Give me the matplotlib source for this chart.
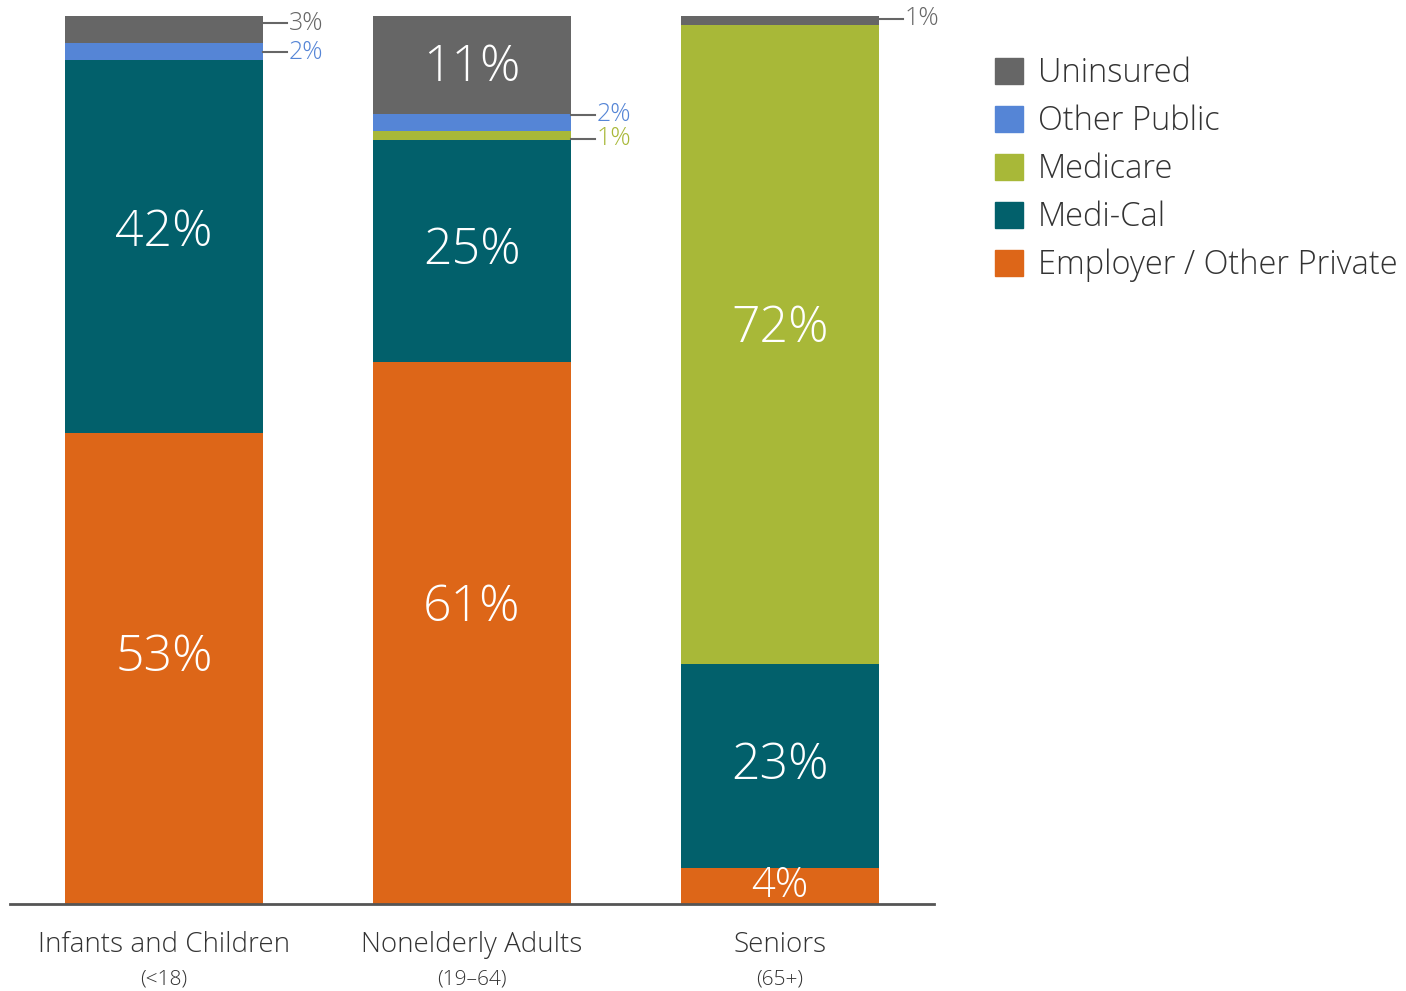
from matplotlib import pyplot as plt
from matplotlib.patches import Patch
import numpy as np

plt.rcParams['font.family'] = ['Open Sans', 'DejaVu Sans']

groups = ['Infants and Children', 'Nonelderly Adults', 'Seniors']
ages = ['(<18)', '(19\u201364)', '(65+)']
series = ['Employer / Other Private', 'Medi-Cal', 'Medicare', 'Other Public', 'Uninsured']
colors = ['#dd6618', '#02606b', '#a8b838', '#5585d6', '#666666']

employer = [53, 61, 4]
medical = [42, 25, 23]
medicare = [0, 1, 72]
other_public = [2, 2, 0]
uninsured = [3, 11, 1]

values = np.array([employer, medical, medicare, other_public, uninsured])

fig = plt.figure(figsize=(14.06, 9.91), dpi=100)
ax = fig.add_axes([10 / 1406, 87 / 991, 924 / 1406, 888 / 991])

x = np.arange(len(groups))
width = 0.64
bottom = np.zeros(len(groups))
# label nudges (data units), (group, series)
nudge = {(0, 4): 0.7, (0, 3): -0.1, (1, 3): 0.9, (1, 2): -0.3, (2, 4): 0.2,
         (0, 0): 1.2, (0, 1): 1.6, (1, 0): 2.8, (2, 2): 1.7, (1, 4): -0.3}
for i, (vals, c) in enumerate(zip(values, colors)):
    ax.bar(x, vals, width, bottom=bottom, color=c, linewidth=0)
    for j, v in enumerate(vals):
        if v == 0:
            continue
        yc = bottom[j] + v / 2 + nudge.get((j, i), 0)
        if v >= 4:
            ax.text(x[j], yc if v > 4 else bottom[j] + 2.0, f'{v}%', color='white',
                    ha='center', va='center', fontsize=36 if v > 4 else 30,
                    fontweight='light')
        else:
            x0 = x[j] + width / 2
            ax.plot([x0, x0 + 0.078], [yc, yc], color='#666666', lw=1.5)
            ax.text(x0 + 0.086, yc, f'{v}%', color=c, ha='left', va='center',
                    fontsize=18, fontweight='light')
    bottom += vals

ax.set_xlim(-0.5, 2.5)
ax.set_ylim(0, 100)
for s in ['top', 'right', 'left']:
    ax.spines[s].set_visible(False)
ax.spines['bottom'].set_color('#555555')
ax.spines['bottom'].set_linewidth(2)
ax.set_yticks([])
ax.set_xticks([])
for j in range(len(groups)):
    ax.text(x[j], -4.6, groups[j], ha='center', va='center', fontsize=20,
            color='#333333', fontweight='light')
    ax.text(x[j], -8.5, ages[j], ha='center', va='center', fontsize=15,
            color='#333333', fontweight='light')

handles = [Patch(color=c) for c in colors[::-1]]
fig.legend(handles, series[::-1], loc='upper left', bbox_to_anchor=(995 / 1406, 1 - 57 / 991),
           frameon=False, handlelength=0.85, handleheight=0.85, borderpad=0, borderaxespad=0,
           handletextpad=0.46, labelspacing=0.44, labelcolor='#333333',
           prop={'weight': 'light', 'size': 23.5})

fig.savefig('out.png', dpi=100)
